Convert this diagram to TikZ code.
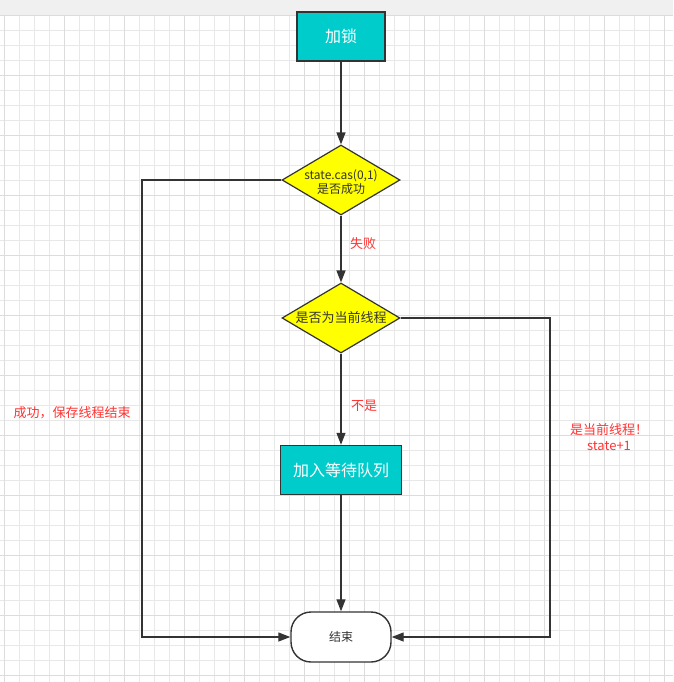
\documentclass[tikz,border=0pt]{standalone}
\usepackage{fontspec}
\setmainfont{Noto Sans CJK SC}
\usepackage{xcolor}
\usetikzlibrary{positioning, shapes.geometric, arrows.meta}

\definecolor{boxcyan}{RGB}{0,204,204}
\definecolor{boxyellow}{RGB}{255,255,0}
\definecolor{edgegray}{RGB}{51,51,51}
\definecolor{notered}{RGB}{255,51,51}
\definecolor{gridgray}{RGB}{232,232,232}
\definecolor{gridmajor}{RGB}{220,220,220}
\definecolor{topbar}{RGB}{240,240,240}

\begin{document}
\begin{tikzpicture}[x=1pt, y=-1pt,
          proc/.style={rectangle, draw=edgegray, line width=1.5pt, fill=boxcyan,
            text=white, font=\fontsize{16}{19}\selectfont, inner sep=0pt},
          decide/.style={diamond, draw=edgegray, line width=1.2pt, fill=boxyellow,
            minimum width=118pt, minimum height=70pt, inner sep=0pt},
          term/.style={rectangle, rounded corners=20pt, draw=edgegray, line width=1.4pt,
            fill=white, minimum width=100pt, minimum height=50pt,
            font=\fontsize{12}{14}\selectfont, text=edgegray},
          dtext/.style={font=\fontsize{12}{14}\selectfont, text=edgegray, align=center, inner sep=0pt},
          note/.style={font=\fontsize{13}{16}\selectfont, text=notered, align=center, inner sep=0pt},
          flow/.style={draw=edgegray, line width=1.3pt, -{Triangle[length=12pt, width=9pt]}}]
          % canvas and grid
          \useasboundingbox (0,0) rectangle (673,682);
          \fill[white] (0,0) rectangle (673,682);
          \foreach \x in {4,19,...,673}
            \draw[gridgray, line width=0.8pt] (\x,15) -- (\x,682);
          \foreach \y in {15,30,...,682}
            \draw[gridgray, line width=0.8pt] (0,\y) -- (673,\y);
          \foreach \x in {4,64,...,673}
            \draw[gridmajor, line width=0.9pt] (\x,15) -- (\x,682);
          \foreach \y in {15,75,...,682}
            \draw[gridmajor, line width=0.9pt] (0,\y) -- (673,\y);
          \fill[topbar] (0,0) rectangle (673,15);

          % shapes
          \node[proc, minimum width=88pt, minimum height=49pt] (lock) at (341,36.5) {加锁};
          \node[decide] (cas) at (341,180) {};
          \node[dtext] (castext) at (341,182) {state.cas(0,1)\\是否成功};
          \node[decide] (owner) at (341,318) {};
          \node[dtext, font=\fontsize{13}{15}\selectfont] (ownertext) at (341,318) {是否为当前线程};
          \node[proc, minimum width=121pt, minimum height=49pt] (queue) at (341,470) {加入等待队列};
          \node[term] (done) at (341,637) {结束};

          \coordinate (leftrun) at (142,0);
          \coordinate (rightrun) at (550,0);

          % labels
          \node[note] (fail) at (363,244) {失败};
          \node[note] (notme) at (364,406) {不是};
          \node[note] (okay) at (72,413) {成功，保存线程结束};
          \node[note] (reent) at (609,437) {是当前线程！\\state+1};

          % connectors
          \draw[flow] (lock) -- (cas);
          \draw[flow] (cas) -- (owner);
          \draw[flow] (owner) -- (queue);
          \draw[flow] (queue) -- (done);
          \draw[flow] (cas.west) -- (cas.west -| leftrun) |- (done.west);
          \draw[flow] (owner.east) -- (owner.east -| rightrun) |- (done.east);
        \end{tikzpicture}
\end{document}
